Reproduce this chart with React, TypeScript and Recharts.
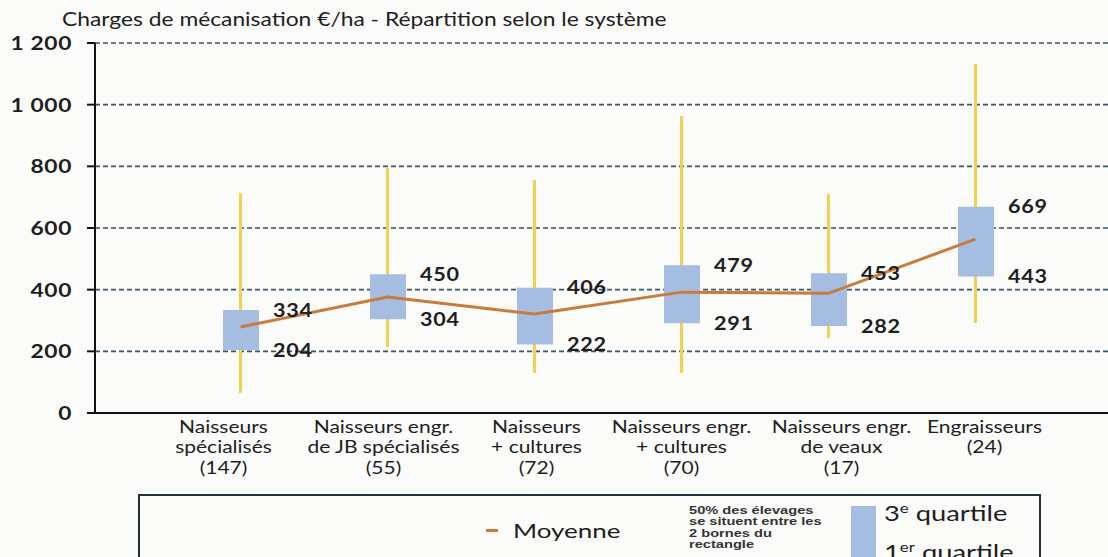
import React from "react";
import {
  ComposedChart,
  Bar,
  Line,
  XAxis,
  YAxis,
  CartesianGrid,
  LabelList,
} from "recharts";

// systèmes (effectif entre parenthèses)
const SYSTEMS = [
  "Naisseurs\nspécialisés\n(147)",
  "Naisseurs engr.\nde JB spécialisés\n(55)",
  "Naisseurs\n+ cultures\n(72)",
  "Naisseurs engr.\n+ cultures\n(70)",
  "Naisseurs engr.\nde veaux\n(17)",
  "Engraisseurs\n(24)",
];

// €/ha
const Q1 = [204, 304, 222, 291, 282, 443];
const Q3 = [334, 450, 406, 479, 453, 669];
const MIN = [65, 214, 130, 130, 243, 292];
const MAX = [713, 795, 756, 963, 710, 1132];
const MEAN = [279, 376, 321, 392, 388, 564];

const Y_TICKS = [0, 200, 400, 600, 800, 1000, 1200];

const data = SYSTEMS.map((system, i) => ({
  system,
  box: [Q1[i], Q3[i]],
  whisker: [MIN[i], MAX[i]],
  mean: MEAN[i],
}));

const FONT = "Lato, 'Open Sans', sans-serif";
const INK = "#1e1e1e";
// the source picture is a bit wider than tall, text looks stretched
const SX = 1.2;

// the source labels are not perfectly centred under each box
const TICK_NUDGE = [-17, -4, 2, 0, 13, 9];

function SystemTick(props: any) {
  const { x, y, payload, index } = props;
  const lines = String(payload.value).split("\n");
  const cx = x + (TICK_NUDGE[index] ?? 0);
  return (
    <g transform={`translate(${cx},${y + 20}) scale(${SX},1)`}>
      <text x={0} y={0} textAnchor="middle" fill={INK} fontSize={17.5} fontFamily={FONT}>
        {lines.map((l, i) => (
          <tspan key={i} x={0} dy={i === 0 ? 0 : 20.5}>
            {l}
          </tspan>
        ))}
      </text>
    </g>
  );
}

const fmtY = (v: number) =>
  v >= 1000 ? `${Math.floor(v / 1000)} ${String(v % 1000).padStart(3, "0")}` : String(v);

function ValueTick(props: any) {
  const { x, y, payload } = props;
  return (
    <g transform={`translate(${x},${y}) scale(${SX},1)`}>
      <text
        x={0}
        y={0}
        dy="0.36em"
        textAnchor="end"
        fill={INK}
        fontSize={19}
        fontWeight={700}
        fontFamily={FONT}
        letterSpacing={0.5}
      >
        {fmtY(payload.value)}
      </text>
    </g>
  );
}

function BoxLabels(props: any) {
  const { x, y, width, height, index } = props;
  const top = Math.min(y, y + height);
  const bottom = Math.max(y, y + height);
  const lx = x + width + 14;
  const style = {
    fontSize: 18,
    fontWeight: 700,
    fontFamily: FONT,
    fill: INK,
    letterSpacing: 0.6,
  };
  return (
    <g>
      <g transform={`translate(${lx},${top}) scale(${SX},1)`}>
        <text x={0} y={0} dy="0.36em" {...style}>
          {Q3[index]}
        </text>
      </g>
      <g transform={`translate(${lx},${bottom}) scale(${SX},1)`}>
        <text x={0} y={0} dy="0.36em" {...style}>
          {Q1[index]}
        </text>
      </g>
    </g>
  );
}

const stretched = (s: number): React.CSSProperties => ({
  transform: `scaleX(${s})`,
  transformOrigin: "left top",
  whiteSpace: "nowrap",
});

export default function App() {
  return (
    <div
      style={{
        position: "absolute",
        left: 0,
        top: 0,
        width: 1108,
        height: 557,
        background: "#fbfbfa",
        overflow: "hidden",
        fontFamily: FONT,
        color: INK,
      }}
    >
      <div
        style={{
          position: "absolute",
          left: 62,
          top: 7,
          fontSize: 19,
          ...stretched(SX),
        }}
      >
        Charges de mécanisation €/ha - Répartition selon le système
      </div>

      <ComposedChart
        width={1108}
        height={557}
        data={data}
        margin={{ top: 43, right: 0, bottom: 84, left: 15 }}
      >
        <CartesianGrid
          vertical={false}
          stroke="#3b5566"
          strokeDasharray="5 3"
          strokeWidth={1.6}
        />
        <XAxis
          xAxisId="main"
          dataKey="system"
          type="category"
          height={60}
          padding={{ left: 72, right: 59 }}
          axisLine={{ stroke: "#111", strokeWidth: 2 }}
          tickLine={false}
          tickSize={0}
          tickMargin={0}
          interval={0}
          tick={<SystemTick />}
        />
        <XAxis
          xAxisId="whisk"
          dataKey="system"
          type="category"
          padding={{ left: 72, right: 59 }}
          hide
        />
        <YAxis
          width={80}
          domain={[0, 1200]}
          ticks={Y_TICKS}
          interval={0}
          axisLine={{ stroke: "#111", strokeWidth: 2 }}
          tickLine={{ stroke: "#111", strokeWidth: 2 }}
          tickSize={8}
          tickMargin={15}
          tick={<ValueTick />}
        />
        <Bar
          xAxisId="whisk"
          dataKey="whisker"
          barSize={3}
          fill="#f1d14f"
          isAnimationActive={false}
        />
        <Bar
          xAxisId="main"
          dataKey="box"
          barSize={36}
          fill="#a6bde2"
          isAnimationActive={false}
        >
          <LabelList dataKey="box" content={<BoxLabels />} />
        </Bar>
        <Line
          xAxisId="main"
          dataKey="mean"
          type="linear"
          stroke="#c87b3b"
          strokeWidth={3}
          dot={false}
          activeDot={false}
          isAnimationActive={false}
        />
      </ComposedChart>

      {/* légende encadrée */}
      <div
        style={{
          position: "absolute",
          left: 138,
          top: 494,
          width: 903,
          height: 90,
          border: "2px solid #24323e",
          boxSizing: "border-box",
        }}
      />
      <div
        style={{
          position: "absolute",
          left: 486,
          top: 529,
          width: 12,
          height: 3,
          background: "#c87b3b",
        }}
      />
      <div
        style={{
          position: "absolute",
          left: 513,
          top: 517,
          fontSize: 20,
          lineHeight: "26px",
          ...stretched(1.3),
        }}
      >
        Moyenne
      </div>
      <div
        style={{
          position: "absolute",
          left: 689,
          top: 505,
          fontSize: 11,
          lineHeight: "11.3px",
          fontWeight: 700,
          fontFamily: "'Liberation Sans', Arial, sans-serif",
          color: "#333",
          ...stretched(1.33),
        }}
      >
        50% des élevages
        <br />
        se situent entre les
        <br />
        2 bornes du
        <br />
        rectangle
      </div>
      <div
        style={{
          position: "absolute",
          left: 851,
          top: 506,
          width: 25,
          height: 60,
          background: "#a6bde2",
        }}
      />
      <div
        style={{
          position: "absolute",
          left: 884,
          top: 495,
          fontSize: 21,
          lineHeight: "26px",
          ...stretched(1.3),
        }}
      >
        3<sup style={{ fontSize: 13 }}>e</sup> quartile
      </div>
      <div
        style={{
          position: "absolute",
          left: 884,
          top: 534,
          fontSize: 21,
          lineHeight: "26px",
          ...stretched(1.3),
        }}
      >
        1<sup style={{ fontSize: 13 }}>er</sup> quartile
      </div>
    </div>
  );
}
